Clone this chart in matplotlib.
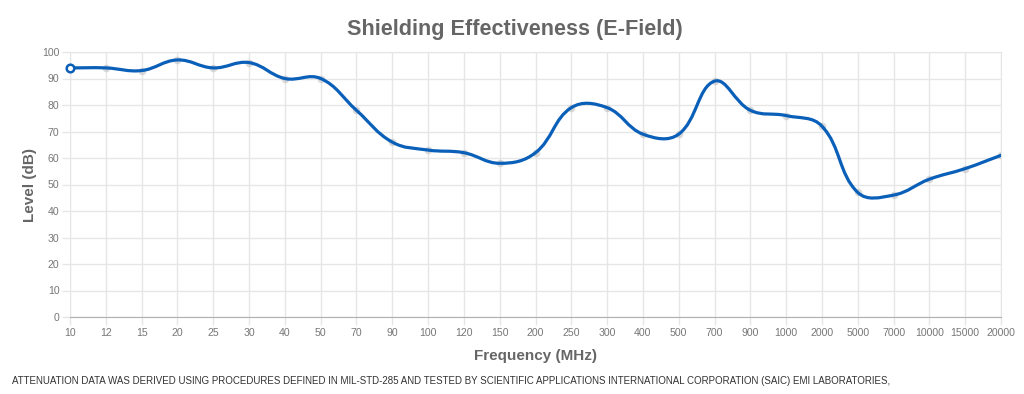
import matplotlib
matplotlib.use("Agg")
import matplotlib.pyplot as plt
import numpy as np
from matplotlib.path import Path
from matplotlib.patches import PathPatch

freqs = ["10", "12", "15", "20", "25", "30", "40", "50", "70", "90", "100", "120", "150",
         "200", "250", "300", "400", "500", "700", "900", "1000", "2000", "5000", "7000",
         "10000", "15000", "20000"]
levels = [94, 94, 93, 97, 94, 96, 90, 90, 78, 66, 63, 62, 58, 62, 79, 79, 69, 69, 89, 78,
          76, 72, 47, 46, 52, 56, 61]
y_ticks = list(range(0, 101, 10))

title = "Shielding Effectiveness (E-Field)"
x_label = "Frequency (MHz)"
y_label = "Level (dB)"
footer = ("ATTENUATION DATA WAS DERIVED USING PROCEDURES DEFINED IN MIL-STD-285 AND TESTED BY "
          "SCIENTIFIC APPLICATIONS INTERNATIONAL CORPORATION (SAIC) EMI LABORATORIES,")

TXT = "#666666"
TICK_TXT = "#777777"
GRID = "#e6e6e6"
LINE = "#0a5fb8"
FAM = ["Liberation Sans", "DejaVu Sans"]

fig = plt.figure(figsize=(10.24, 3.94), dpi=100)
ax = fig.add_axes([70 / 1024, 1 - 317 / 394, (1001 - 70) / 1024, (317 - 52) / 394])
x = np.arange(len(freqs))
ax.set_xlim(x[0], x[-1])
ax.set_ylim(0, 100)
ax.set_xticks(x)
ax.set_xticklabels(freqs)
ax.set_yticks(y_ticks)
ax.grid(True, color=GRID, linewidth=1)
ax.set_axisbelow(True)
for side in ["top", "right", "left"]:
    ax.spines[side].set_color(GRID)
ax.spines["bottom"].set_color("#b0b0b0")
ax.tick_params(colors=GRID, labelcolor=TICK_TXT, labelsize=7.6, length=5.8, width=1, pad=1.8)
for lab in ax.get_xticklabels() + ax.get_yticklabels():
    lab.set_family(FAM)

# Chart.js-like bezier spline (tension 0.4) computed in pixel space
fig.canvas.draw()
pts = ax.transData.transform(np.column_stack([x, levels]))
t = 0.4
n = len(pts)
cps = []
for i in range(n):
    prev = pts[i - 1] if i > 0 else pts[i]
    cur = pts[i]
    nxt = pts[i + 1] if i < n - 1 else pts[i]
    d01 = np.hypot(*(cur - prev))
    d12 = np.hypot(*(nxt - cur))
    s = d01 + d12
    s01 = d01 / s if s else 0
    s12 = d12 / s if s else 0
    cp_prev = cur - t * s01 * (nxt - prev)
    cp_next = cur + t * s12 * (nxt - prev)
    cps.append((cp_prev, cp_next))
verts = [pts[0]]
codes = [Path.MOVETO]
for i in range(n - 1):
    verts += [cps[i][1], cps[i + 1][0], pts[i + 1]]
    codes += [Path.CURVE4] * 3
inv = ax.transData.inverted()
verts_d = inv.transform(np.array(verts))
patch = PathPatch(Path(verts_d, codes), facecolor="none", edgecolor=LINE, linewidth=2.3,
                  zorder=3, capstyle="round", joinstyle="round")
ax.add_patch(patch)

ax.scatter(x[1:], levels[1:], s=30, color="#bdbdbd", alpha=0.55, zorder=2, linewidths=0)
ax.scatter(x[:1], levels[:1], s=30, facecolor="white", edgecolor=LINE, linewidths=1.8,
           zorder=4, clip_on=False)

fig.text(515 / 1024, 1 - 30 / 394, title, ha="center", va="center", fontsize=15.6,
         fontweight="bold", color=TXT, family=FAM)
fig.text(536 / 1024, 1 - 356 / 394, x_label, ha="center", va="center", fontsize=11,
         fontweight="bold", color=TXT, family=FAM)
fig.text(30 / 1024, 1 - 185 / 394, y_label, ha="center", va="center", rotation=90,
         fontsize=11, fontweight="bold", color=TXT, family=FAM)
fig.text(12 / 1024, 1 - 381 / 394, footer, ha="left", va="center", fontsize=7.0,
         color="#333333", family=FAM)

fig.savefig("out.png", dpi=100, facecolor="white")
